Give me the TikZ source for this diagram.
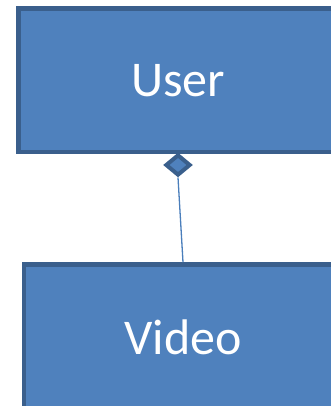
\documentclass[tikz,border=0pt]{standalone}
\usepackage{fontspec}
\setmainfont{Carlito}
\usetikzlibrary{shapes.geometric}
\definecolor{boxfill}{HTML}{4F81BD}
\definecolor{boxline}{HTML}{3A5F8C}
\definecolor{linkline}{HTML}{4A7EBB}
\tikzset{
  classbox/.style={rectangle, draw=boxline, fill=boxfill, line width=4.5pt,
    text=white, font=\fontsize{50}{60}\selectfont, inner sep=0pt},
  owner/.style={diamond, draw=boxline, fill=boxfill, line width=4pt,
    minimum width=25pt, minimum height=21pt, inner sep=0pt},
  link/.style={draw=linkline, line width=1.3pt}
}
\begin{document}
\begin{tikzpicture}[x=1pt,y=1pt]
\useasboundingbox (0,0) rectangle (331,406);
\clip (0,0) rectangle (331,406);
\node[owner] (own) at (178,241) {};
\node[classbox, minimum width=319pt, minimum height=143.5pt] (user) at (178,325.75) {User};
\node[classbox, minimum width=318pt, minimum height=145pt] (video) at (183,69) {Video};
\draw[link] (own.south) -- (video.north);
\end{tikzpicture}
\end{document}
